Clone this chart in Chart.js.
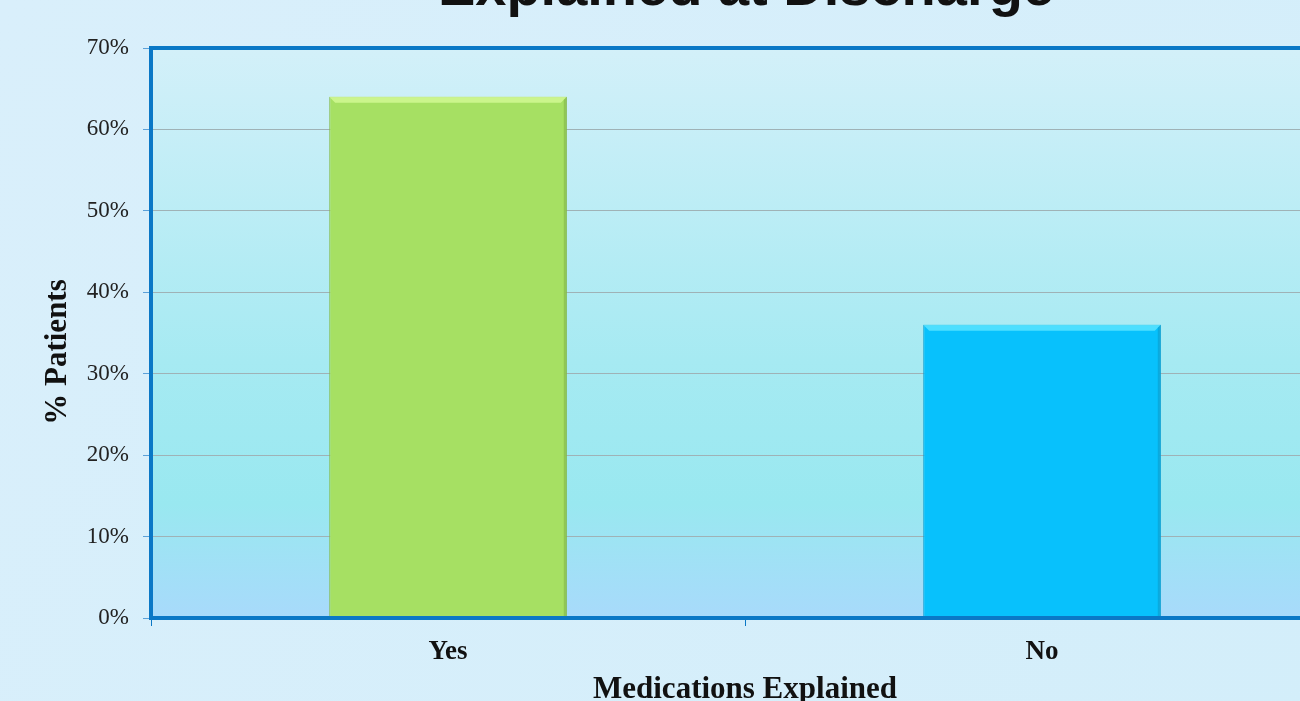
<!DOCTYPE html>
<html lang="en">
<head>
  <meta charset="UTF-8" />
  <title>Medications Explained at Discharge</title>
  <script src="https://cdn.jsdelivr.net/npm/chart.js"></script>
  <style>
    body {
      margin: 0;
      overflow: hidden;
      background: #d6eefa;
    }
    #wrap {
      width: 1345px;
      height: 701px;
    }
  </style>
</head>
<body>
  <div id="wrap"><canvas id="chart" width="1345" height="701"></canvas></div>

  <script>
    // data
    const categories = ['Yes', 'No'];
    const percentPatients = [64, 36];
    const barColors = ['#a6e063', '#08c1fc'];
    const barEdges = ['#86bb4c', '#0a9fd2'];
    const barLights = ['#d4fa96', '#5fe6ff'];
    const titleText = 'Explained at Discharge';
    const yTitle = '% Patients';

    const serif = "'Liberation Serif', 'Times New Roman', serif";

    // page background + plot area gradient, frame, y title and cut-off title
    const decor = {
      id: 'decor',
      beforeDraw(chart) {
        const { ctx, chartArea: a, width, height } = chart;
        ctx.save();
        let bg = ctx.createLinearGradient(0, 0, width, height);
        bg.addColorStop(0, '#d9effb');
        bg.addColorStop(1, '#d3eefa');
        ctx.fillStyle = bg;
        ctx.fillRect(0, 0, width, height);

        let g = ctx.createLinearGradient(0, a.top, 0, a.bottom);
        g.addColorStop(0, '#d3f0f9');
        g.addColorStop(0.55, '#a6eaf2');
        g.addColorStop(0.8, '#99e8f0');
        g.addColorStop(1, '#a8dafb');
        ctx.fillStyle = g;
        ctx.fillRect(a.left, a.top, a.right - a.left, a.bottom - a.top);
        ctx.restore();
      },
      // little bevel on top of each bar
      afterDatasetsDraw(chart) {
        const { ctx } = chart;
        const meta = chart.getDatasetMeta(0);
        ctx.save();
        meta.data.forEach((bar, i) => {
          const l = bar.x - bar.width / 2, r = bar.x + bar.width / 2, t = bar.y, b = bar.base;
          const d = 6;
          ctx.fillStyle = barLights[i];
          ctx.globalAlpha = 0.8;
          ctx.beginPath();
          ctx.moveTo(l, t); ctx.lineTo(r, t); ctx.lineTo(r - d, t + d); ctx.lineTo(l + d, t + d);
          ctx.closePath(); ctx.fill();
          ctx.fillStyle = barEdges[i];
          ctx.globalAlpha = 0.7;
          ctx.beginPath();
          ctx.moveTo(r, t); ctx.lineTo(r, b); ctx.lineTo(r - 3, b); ctx.lineTo(r - 3, t + 3);
          ctx.closePath(); ctx.fill();
        });
        ctx.restore();
      },
      afterDraw(chart) {
        const { ctx, chartArea: a } = chart;
        ctx.save();
        ctx.strokeStyle = '#0a78c6';
        ctx.lineWidth = 4;
        ctx.strokeRect(a.left, a.top, a.right - a.left, a.bottom - a.top);

        ctx.fillStyle = '#111';
        ctx.font = "bold 56px 'Liberation Sans', Arial, sans-serif";
        ctx.textAlign = 'center';
        ctx.textBaseline = 'alphabetic';
        ctx.fillText(titleText, 746, 5);

        // y axis title sits a bit below the middle of the axis
        ctx.translate(58, 352);
        ctx.rotate(-Math.PI / 2);
        ctx.textBaseline = 'middle';
        ctx.font = 'bold 31px ' + serif;
        ctx.fillText(yTitle, 0, 0);
        ctx.restore();
      }
    };

    new Chart(document.getElementById('chart'), {
      type: 'bar',
      data: {
        labels: categories,
        datasets: [{
          label: '% Patients',
          data: percentPatients,
          backgroundColor: barColors,
          borderColor: barEdges,
          borderWidth: 1,
          barPercentage: 0.4,
          categoryPercentage: 1
        }]
      },
      options: {
        responsive: false,
        animation: false,
        layout: { padding: { top: 48, right: 6, left: 0, bottom: 0 } },
        plugins: {
          legend: { display: false },
          tooltip: { enabled: false }
        },
        scales: {
          x: {
            offset: true,
            grid: {
              offset: true,
              drawOnChartArea: false,
              drawTicks: true,
              tickLength: 8,
              tickColor: '#0a78c6'
            },
            border: { display: false },
            ticks: {
              color: '#111',
              padding: 10,
              font: { family: serif, size: 27, weight: 'bold' }
            },
            title: {
              display: true,
              text: 'Medications Explained',
              color: '#111',
              padding: { top: 0, bottom: -4 },
              font: { family: serif, size: 31, weight: 'bold', lineHeight: 1 }
            },
            afterFit(scale) { scale.height = 701 - 618; }
          },
          y: {
            min: 0,
            max: 70,
            grid: {
              color: '#9fb2b6',
              lineWidth: 1,
              tickLength: 8,
              tickColor: '#5aa0d8'
            },
            border: { display: false },
            ticks: {
              stepSize: 10,
              color: '#222',
              padding: 14,
              font: { family: serif, size: 23 },
              callback: v => v + '%'
            },
            afterFit(scale) { scale.width = 151; }
          }
        }
      },
      plugins: [decor]
    });
  </script>
</body>
</html>
